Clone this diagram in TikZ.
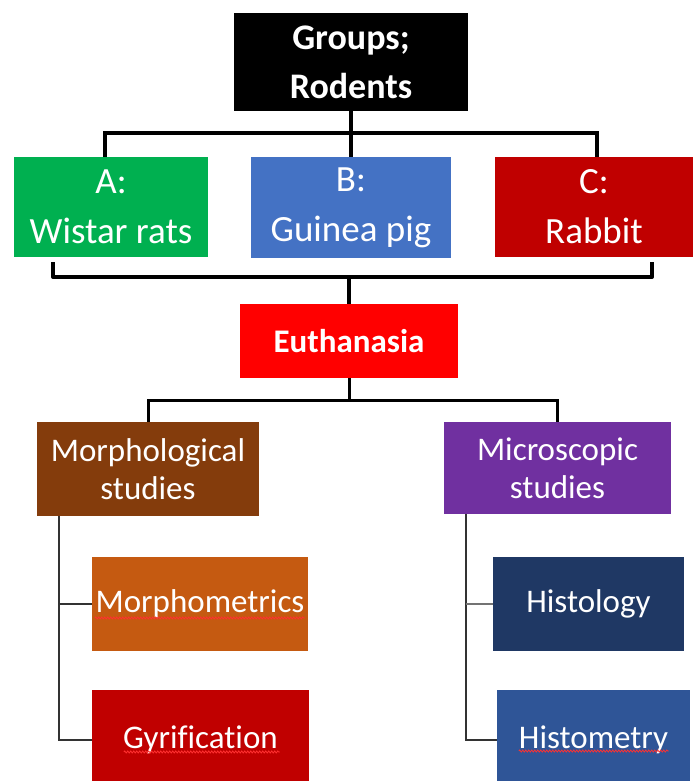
\documentclass[tikz,border=0pt]{standalone}
\usepackage{fontspec}
\setmainfont[Ligatures=NoCommon]{Carlito}
\usetikzlibrary{decorations.pathmorphing}
\definecolor{cgreen}{HTML}{00B050}
\definecolor{cblue}{HTML}{4472C4}
\definecolor{cdred}{HTML}{C00000}
\definecolor{cred}{HTML}{FF0000}
\definecolor{cbrown}{HTML}{843C0C}
\definecolor{cpurple}{HTML}{7030A0}
\definecolor{corange}{HTML}{C55A11}
\definecolor{cnavy}{HTML}{1F3864}
\definecolor{cmblue}{HTML}{2F5597}
\definecolor{csq}{HTML}{FF3030}
\tikzset{
  box/.style={rectangle, inner sep=0pt, text=white, align=center},
  big/.style={font=\fontsize{36}{49}\selectfont\bfseries},
  mid/.style={font=\fontsize{37}{50}\selectfont},
  small/.style={font=\fontsize{33}{38}\selectfont},
  thickcon/.style={line width=4pt, black},
  medcon/.style={line width=3pt, black},
  thincon/.style={line width=2.2pt, black!80},
  squiggle/.style={csq, line width=0.8pt, decorate, decoration={snake, amplitude=1pt, segment length=3pt}}
}
\begin{document}
\begin{tikzpicture}[x=1pt,y=-1pt]
\useasboundingbox (0,0) rectangle (694,781);
\fill[white] (0,0) rectangle (694,781);
% nodes
\node[box, big, fill=black, minimum width=234pt, minimum height=98pt] (grp) at (351,62) {Groups;\\Rodents};
\node[box, mid, fill=cgreen, minimum width=194pt, minimum height=100pt] (A) at (111,207) {A:\\Wistar rats};
\node[box, mid, fill=cblue, minimum width=200pt, minimum height=101pt] (B) at (351,207.5) {B:\\Guinea pig};
\node[box, mid, fill=cdred, minimum width=198pt, minimum height=100pt] (C) at (594,207) {C:\\Rabbit};
\node[box, font=\fontsize{33}{38}\selectfont\bfseries, fill=cred, minimum width=218pt, minimum height=74pt] (E) at (349,341) {Euthanasia};
\node[box, small, fill=cbrown, minimum width=222pt, minimum height=94pt] (morph) at (148,469) {Morphological\\studies};
\node[box, small, fill=cpurple, minimum width=227pt, minimum height=92pt] (micro) at (557.5,468) {Microscopic\\studies};
\node[box, small, fill=corange, minimum width=216pt, minimum height=94pt] (mmet) at (200,604) {Morphometrics};
\node[box, small, fill=cdred, minimum width=217pt, minimum height=100pt] (gyr) at (200.5,740) {Gyrification};
\node[box, small, fill=cnavy, minimum width=191pt, minimum height=94pt] (histo) at (588.5,604) {Histology};
\node[box, small, fill=cmblue, minimum width=193pt, minimum height=100pt] (hmet) at (593.5,740) {Histometry};
% spell-check squiggles
\draw[squiggle] (mmet.west) ++(3,14) -- ++(210,0);
\draw[squiggle] (gyr.west) ++(32,12) -- ++(156,0);
\draw[squiggle] (hmet.west) ++(22,11) -- ++(150,0);
% top connectors
\coordinate (bar) at (351,133);
\draw[thickcon] (grp.south) -- (B.north);
\draw[thickcon] ([xshift=-6pt]A.north) |- (bar) -| ([xshift=3pt]C.north);
% bracket
\coordinate (brL) at (53,262);
\coordinate (brR) at (652,262);
\coordinate (brM) at (349,277);
\draw[thickcon, line join=round] (brL) |- (brM) -| (brR);
\draw[thickcon] (brM) -- (E.north);
% euthanasia connectors
\coordinate (bar2) at (349,400);
\draw[medcon] (E.south) -- (bar2);
\draw[medcon] (morph.north) |- (bar2) -| (micro.north);
% left tree
\coordinate (lt) at ([xshift=22pt]morph.south west);
\draw[thincon] (lt) |- (gyr.west);
\draw[thincon] (lt |- mmet.west) -- (mmet.west);
% right tree
\coordinate (rt) at ([xshift=22pt]micro.south west);
\draw[thincon] (rt) |- (hmet.west);
\draw[thincon, black!55] (rt |- histo.west) -- (histo.west);
\end{tikzpicture}
\end{document}
